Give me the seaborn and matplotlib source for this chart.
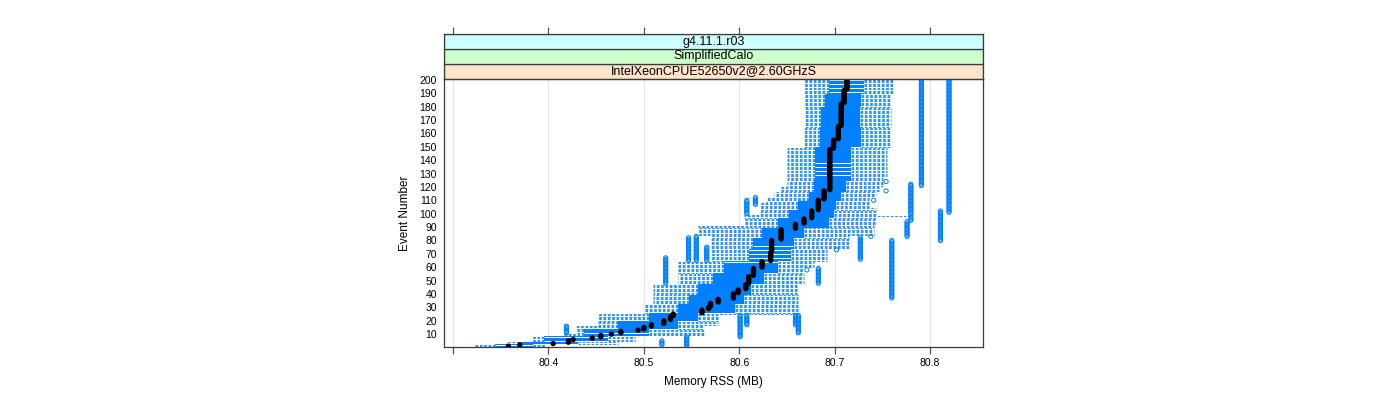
import numpy as np
import pandas as pd
import matplotlib
matplotlib.use("Agg")
import matplotlib.pyplot as plt
from matplotlib.patches import Rectangle
import seaborn as sns

# ---------------- data (run-length lists: (number of events, value in MB)) ----------------
n_events = 200
median_runs = [(1, 80.358), (1, 80.370), (1, 80.405), (2, 80.421), (1, 80.426), (1, 80.446),
               (2, 80.455), (1, 80.466), (2, 80.476), (1, 80.494), (2, 80.500), (2, 80.508),
               (3, 80.521), (3, 80.528), (2, 80.531), (3, 80.561), (2, 80.568), (3, 80.570),
               (3, 80.578), (4, 80.594), (3, 80.599), (4, 80.607), (6, 80.610), (6, 80.615),
               (5, 80.624), (7, 80.633), (9, 80.634), (8, 80.644), (4, 80.659), (4, 80.668),
               (6, 80.676), (8, 80.683), (7, 80.689), (31, 80.695), (7, 80.699), (10, 80.704),
               (17, 80.707), (10, 80.710), (8, 80.713)]
q1_runs = [(2, 80.344), (2, 80.369), (4, 80.395), (5, 80.437), (6, 80.473), (6, 80.505),
           (7, 80.536), (7, 80.547), (8, 80.557), (8, 80.573), (9, 80.584), (9, 80.610),
           (8, 80.615), (8, 80.624), (7, 80.641), (6, 80.652), (7, 80.662), (7, 80.673),
           (8, 80.678), (25, 80.680), (15, 80.685), (15, 80.686), (10, 80.690), (11, 80.694)]
q3_runs = [(2, 80.384), (2, 80.431), (4, 80.463), (5, 80.505), (6, 80.536), (6, 80.557),
           (7, 80.596), (7, 80.605), (8, 80.612), (8, 80.626), (9, 80.641), (9, 80.654),
           (8, 80.657), (8, 80.668), (7, 80.694), (6, 80.699), (7, 80.702), (7, 80.707),
           (8, 80.712), (25, 80.717), (15, 80.728), (15, 80.727), (10, 80.728), (11, 80.731)]
whisker_low_runs = [(2, 80.322), (2, 80.358), (4, 80.382), (2, 80.415), (6, 80.429), (9, 80.452),
                    (7, 80.500), (15, 80.510), (17, 80.536), (19, 80.570), (8, 80.557),
                    (8, 80.605), (9, 80.622), (4, 80.628), (4, 80.636), (4, 80.643),
                    (29, 80.650), (51, 80.668)]
whisker_high_runs = [(2, 80.396), (2, 80.473), (4, 80.491), (8, 80.563), (8, 80.578),
                     (23, 80.662), (12, 80.668), (5, 80.678), (9, 80.692), (10, 80.715),
                     (8, 80.741), (6, 80.743), (1, 80.780), (6, 80.743), (8, 80.736),
                     (4, 80.743), (4, 80.748), (7, 80.751), (22, 80.755), (40, 80.759),
                     (11, 80.762)]
# outliers: (first event, last event, value in MB)
outlier_runs = [(1, 8, 80.545), (2, 5, 80.519), (11, 16, 80.419), (8, 24, 80.601),
                (17, 24, 80.608), (17, 24, 80.659), (11, 24, 80.662), (48, 67, 80.523),
                (48, 59, 80.683), (58, 58, 80.671), (65, 82, 80.547), (65, 83, 80.555),
                (65, 75, 80.566), (73, 73, 80.702), (66, 82, 80.727), (83, 83, 80.738),
                (37, 80, 80.760), (83, 94, 80.776), (95, 97, 80.780), (99, 122, 80.780),
                (80, 102, 80.811), (100, 110, 80.608), (107, 112, 80.617), (110, 110, 80.741),
                (117, 117, 80.754), (124, 124, 80.754), (121, 200, 80.791), (101, 200, 80.820)]
x_ticks = [80.3, 80.4, 80.5, 80.6, 80.7, 80.8]
x_tick_labels = ["", "80.4", "80.5", "80.6", "80.7", "80.8"]
y_ticks = list(range(10, 201, 10))
strip_labels = ["IntelXeonCPUE52650v2@2.60GHzS", "SimplifiedCalo", "g4.11.1.r03"]
strip_colors = ["#FFE5CC", "#CCFFCC", "#CCFFFF"]


def expand(runs):
    return np.concatenate([np.full(n, v) for n, v in runs])


events = np.arange(1, n_events + 1)
df = pd.DataFrame({
    "event": events,
    "median": expand(median_runs),
    "q1": expand(q1_runs),
    "q3": expand(q3_runs),
    "wlo": expand(whisker_low_runs),
    "whi": expand(whisker_high_runs),
})
out_rows = []
for a, b, v in outlier_runs:
    for e in range(a, b + 1):
        out_rows.append((e, v))
outliers = pd.DataFrame(out_rows, columns=["event", "rss"])

# ---------------- drawing ----------------
sns.set_theme(style="white")
plt.rcParams["font.family"] = ["Liberation Sans", "DejaVu Sans"]
plt.rcParams["text.color"] = "black"
plt.rcParams["axes.labelcolor"] = "black"
plt.rcParams["xtick.color"] = "black"
plt.rcParams["ytick.color"] = "black"
BLUE = "#0080ff"
FRAME = "#3a3a3a"

W, H = 1400, 400
fig = plt.figure(figsize=(14, 4), dpi=100)
L, R, T, B = 444, 983, 79, 347
ax = fig.add_axes([L / W, 1 - B / H, (R - L) / W, (B - T) / H])
xlim = (80.2906, 80.8556)
ax.set_xlim(*xlim)
ax.set_ylim(0.4, 200.6)

for t in x_ticks:
    ax.axvline(t, color="#e6e6e6", lw=0.9, zorder=0)

dash = (0, (3.2, 2.0))
ax.hlines(df["event"], df["q1"], df["wlo"], colors=BLUE, linestyles=dash, lw=0.6, zorder=1)
ax.hlines(df["event"], df["q3"], df["whi"], colors=BLUE, linestyles=dash, lw=0.6, zorder=1)
ax.barh(df["event"], df["q3"] - df["q1"], left=df["q1"], height=0.95, color=BLUE,
        linewidth=0, zorder=2)
ax.scatter(outliers["rss"], outliers["event"], s=9, facecolors="none", edgecolors=BLUE,
           linewidths=0.7, zorder=3)
sns.scatterplot(data=df, x="median", y="event", color="black", s=15, edgecolor="none",
                ax=ax, legend=False, zorder=4)

ax.set_xticks(x_ticks)
ax.set_xticklabels(x_tick_labels)
ax.set_yticks(y_ticks)
ax.set_yticklabels([str(v) for v in y_ticks])
ax.tick_params(axis="x", direction="out", length=5, width=0.9, color="#555555",
               labelsize=7.5, pad=3, bottom=True, top=False)
ax.tick_params(axis="y", length=0, labelsize=7.5, pad=5)
ax.set_xlabel("Memory RSS (MB)", fontsize=8.5, labelpad=6)
ax.set_ylabel("Event Number", fontsize=8.5, labelpad=6)
for sp in ax.spines.values():
    sp.set_color(FRAME)
    sp.set_linewidth(0.9)
ax.grid(False)

# strips
ST = 34
sax = fig.add_axes([L / W, 1 - T / H, (R - L) / W, (T - ST) / H])
sax.set_xlim(*xlim)
sax.set_ylim(0, 3)
for i, (lab, col) in enumerate(zip(strip_labels, strip_colors)):
    sax.add_patch(Rectangle((xlim[0], i), xlim[1] - xlim[0], 1, facecolor=col,
                            edgecolor=FRAME, lw=0.9, zorder=1))
    sax.text(np.mean(xlim), i + 0.5, lab, ha="center", va="center", fontsize=9, color="black")
sax.set_xticks(x_ticks)
sax.xaxis.tick_top()
sax.tick_params(axis="x", direction="out", length=5, width=0.9, color="#555555",
                labeltop=False, labelbottom=False, top=True, bottom=False)
sax.set_yticks([])
for sp in sax.spines.values():
    sp.set_color(FRAME)
    sp.set_linewidth(0.9)

fig.savefig("out.png", dpi=100)
